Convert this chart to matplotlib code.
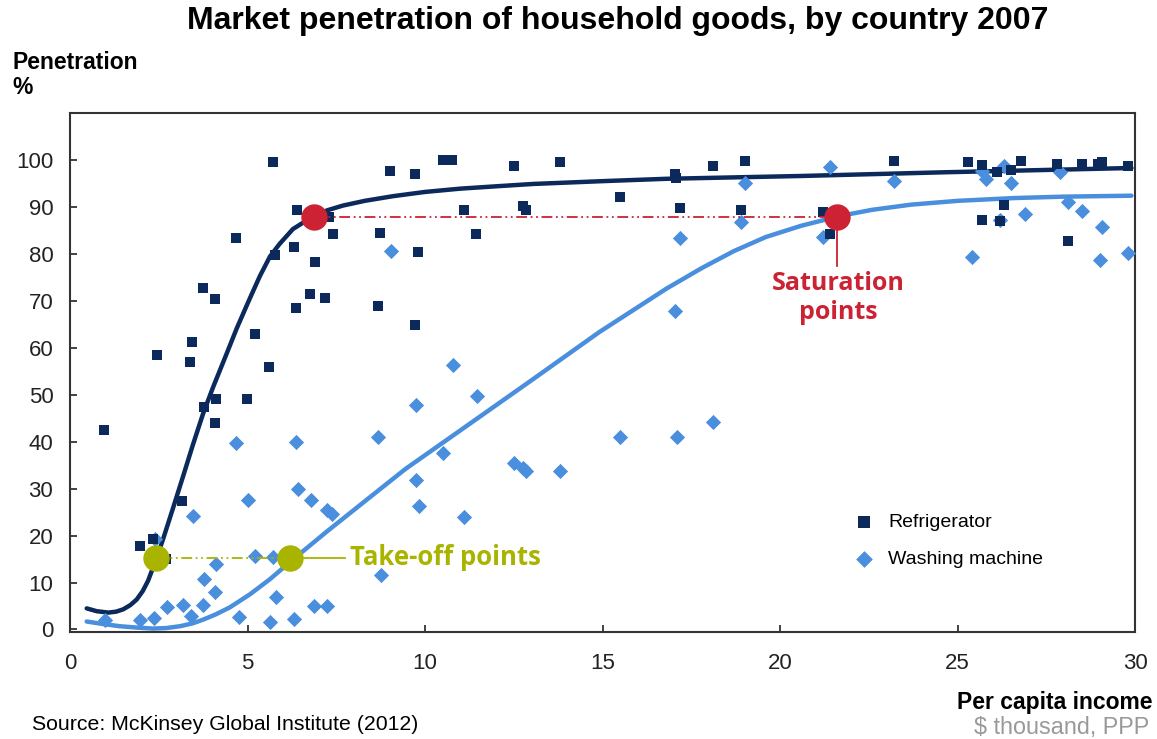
import matplotlib.pyplot as plt
import numpy as np

plt.rcParams['font.family'] = ['Liberation Sans', 'DejaVu Sans']

# refrigerator points (income $k, penetration %)
fridge_x = [0.96, 1.96, 2.34, 2.7, 2.45, 3.43, 3.38, 3.15, 3.74, 4.08, 3.77, 4.11, 4.08,
            4.68, 5.2, 4.98, 5.6, 5.72, 5.77, 6.39, 6.3, 6.37, 6.76, 6.9, 7.18, 7.4, 7.3,
            9.0, 8.73, 8.68, 9.72, 10.5, 10.76, 12.5, 13.8, 11.1, 12.76, 12.85, 11.44,
            9.8, 9.72, 15.5, 17.04, 17.07, 17.18, 18.1, 19.0, 18.9, 21.2, 21.4, 23.2,
            25.3, 25.7, 25.7, 26.2, 26.3, 26.5, 26.1, 26.8, 27.8, 28.1, 28.5, 29.07,
            28.96, 29.8]
fridge_y = [42.4, 17.7, 19.2, 15.1, 58.4, 61.2, 57.0, 27.3, 72.7, 70.4, 47.3, 49.0, 43.9,
            83.4, 62.9, 49.0, 56.0, 99.6, 79.7, 89.3, 81.4, 68.4, 71.4, 78.3, 70.6, 84.2, 87.8,
            97.7, 84.4, 68.9, 97.0, 100.0, 100.0, 98.7, 99.6, 89.3, 90.2, 89.3, 84.2,
            80.4, 64.8, 92.1, 97.0, 96.2, 89.8, 98.7, 99.8, 89.3, 88.9, 84.2, 99.8,
            99.6, 98.9, 87.2, 87.0, 90.4, 97.9, 97.4, 99.8, 99.1, 82.7, 99.1, 99.6,
            99.1, 98.7]

# washing machine points
wash_x = [0.99, 1.97, 2.37, 2.4, 2.73, 3.18, 3.4, 3.75, 3.77, 4.08, 4.11, 3.47, 4.68, 5.0,
          4.76, 5.2, 5.63, 5.8, 5.72, 6.31, 6.37, 6.42, 6.79, 7.38, 7.25, 6.87, 7.24, 8.68,
          8.76, 9.04, 9.75, 10.8, 11.47, 9.75, 10.5, 9.83, 11.1, 12.5, 12.76, 12.85, 13.8,
          15.5, 17.1, 18.1, 17.04, 17.18, 19.0, 18.9, 21.4, 21.2, 23.2, 25.4, 25.7, 25.8,
          26.3, 26.2, 26.5, 26.9, 27.9, 28.1, 28.5, 29.07, 29.0, 29.8]
wash_y = [2.1, 2.1, 2.5, 19.2, 4.7, 5.3, 2.8, 5.3, 10.7, 7.9, 13.9, 24.1, 39.7, 27.5,
          2.6, 15.6, 1.7, 7.0, 15.4, 2.3, 39.9, 29.9, 27.5, 24.7, 25.5, 4.9, 4.9, 40.9,
          11.7, 80.6, 47.8, 56.3, 49.7, 31.8, 37.5, 26.2, 23.9, 35.4, 34.5, 33.7, 33.7,
          40.9, 40.9, 44.3, 67.8, 83.4, 95.0, 86.8, 98.5, 83.6, 95.5, 79.3, 97.7, 96.0,
          98.7, 87.2, 95.0, 88.5, 97.4, 91.0, 89.1, 85.7, 78.7, 80.2]

# trend curves
fridge_trend_x = [0.47, 0.75, 1.08, 1.3, 1.5, 1.7, 1.88, 2.05, 2.2, 2.42, 2.62, 2.9, 3.18,
                  3.46, 3.75, 4.03, 4.42, 4.7, 5.07, 5.35, 5.63, 5.9, 6.28, 6.85, 7.25, 7.69,
                  8.3, 9.1, 10.0, 10.99, 12.0, 13.04, 15.0, 16.8, 20.6, 24.7, 29.9]
fridge_trend_y = [4.5, 3.9, 3.6, 3.8, 4.3, 5.2, 6.4, 8.2, 10.4, 14.8, 19.2, 25.8, 32.5,
                  39.3, 46.0, 51.6, 58.9, 64.2, 70.6, 75.3, 79.4, 82.1, 85.3, 88.0, 89.3, 90.3,
                  91.3, 92.3, 93.2, 93.9, 94.4, 94.9, 95.5, 96.0, 96.6, 97.4, 98.3]
wash_trend_x = [0.47, 0.9, 1.4, 1.9, 2.34, 2.7, 3.1, 3.45, 3.75, 4.1, 4.5, 5.07, 5.63, 6.2,
                7.24, 8.17, 9.45, 11.2, 13.04, 14.9, 16.8, 17.8, 18.7, 19.6, 20.6, 21.7,
                22.6, 23.7, 25.0, 26.6, 28.0, 29.9]
wash_trend_y = [1.7, 1.2, 0.7, 0.4, 0.2, 0.3, 0.7, 1.3, 2.1, 3.2, 4.7, 7.5, 10.7, 14.4,
                20.9, 26.5, 34.2, 43.5, 53.3, 63.3, 72.6, 77.0, 80.6, 83.6, 86.0, 88.1,
                89.4, 90.5, 91.3, 91.9, 92.2, 92.4]

takeoff_x = [2.42, 6.2]
takeoff_y = 15.3
saturation_x = [6.87, 21.6]
saturation_y = 87.8

navy = '#0B2A5B'
light = '#4A8FDE'
olive = '#A8B400'
red = '#CC2233'

fig = plt.figure(figsize=(11.57, 7.39), dpi=100)
ax = fig.add_axes([0.0605, 0.145, 0.9205, 0.702])

ax.plot(fridge_trend_x, fridge_trend_y, color=navy, lw=3.2, solid_capstyle='round',
        solid_joinstyle='round', zorder=2)
ax.plot(wash_trend_x, wash_trend_y, color=light, lw=3.2, solid_capstyle='round',
        solid_joinstyle='round', zorder=2)

ax.scatter(wash_x, wash_y, marker='D', s=60, color=light, linewidths=0, zorder=3,
           label='Washing machine')
ax.scatter(fridge_x, fridge_y, marker='s', s=62, color=navy, linewidths=0, zorder=3,
           label='Refrigerator')

# take-off annotation
ax.plot(takeoff_x, [takeoff_y] * 2, color=olive, lw=1.3, dashes=[6, 2, 1, 2, 1, 2], zorder=4)
ax.plot([takeoff_x[1], 7.75], [takeoff_y] * 2, color=olive, lw=1.3, zorder=4)
ax.plot(takeoff_x, [takeoff_y] * 2, 'o', ms=18, color=olive, zorder=5)
ax.text(7.88, takeoff_y, 'Take-off points', color=olive, fontsize=18.5, fontweight='bold',
        va='center', ha='left', family=['Open Sans', 'DejaVu Sans'])

# saturation annotation
ax.plot(saturation_x, [saturation_y] * 2, color=red, lw=1.3, dashes=[6, 2, 1, 2, 1, 2], zorder=4)
ax.plot([saturation_x[1]] * 2, [saturation_y, 77.5], color=red, lw=1.3, zorder=4)
ax.plot(saturation_x, [saturation_y] * 2, 'o', ms=18, color=red, zorder=5)
ax.text(saturation_x[1] + 0.05, 70.6, 'Saturation\npoints', color=red, fontsize=18,
        fontweight='bold', ha='center', va='center', linespacing=1.2,
        family=['Open Sans', 'DejaVu Sans'])

ax.set_xlim(0, 30)
ax.set_ylim(-0.5, 110)
ax.set_xticks(range(0, 31, 5))
ax.set_yticks(range(0, 101, 10))
ax.tick_params(direction='in', labelsize=16, length=5, width=1.2, colors='#222222')
ax.tick_params(axis='x', pad=15)
ax.tick_params(axis='y', pad=12)
for sp in ax.spines.values():
    sp.set_linewidth(1.5)
    sp.set_color('#333333')

handles, labels = ax.get_legend_handles_labels()
ax.legend(handles[::-1], labels[::-1], loc='center left', bbox_to_anchor=(0.736, 0.176),
          frameon=False, fontsize=14, handlelength=1.0, handletextpad=0.75, labelspacing=1.0,
          borderaxespad=0, borderpad=0, markerscale=1.1)

fig.text(0.534, 0.972, 'Market penetration of household goods, by country 2007',
         ha='center', va='center', fontsize=23, fontweight='bold')
fig.text(0.011, 0.916, 'Penetration', fontsize=16.5, fontweight='bold', va='center')
fig.text(0.011, 0.881, '%', fontsize=16.5, fontweight='bold', va='center')
fig.text(0.996, 0.049, 'Per capita income', fontsize=16.5, fontweight='bold', ha='right', va='center')
fig.text(0.993, 0.015, '$ thousand, PPP', fontsize=16.8, color='#999999', ha='right', va='center')
fig.text(0.028, 0.019, 'Source: McKinsey Global Institute (2012)', fontsize=15.3, va='center')

fig.savefig('out.png', dpi=100)
